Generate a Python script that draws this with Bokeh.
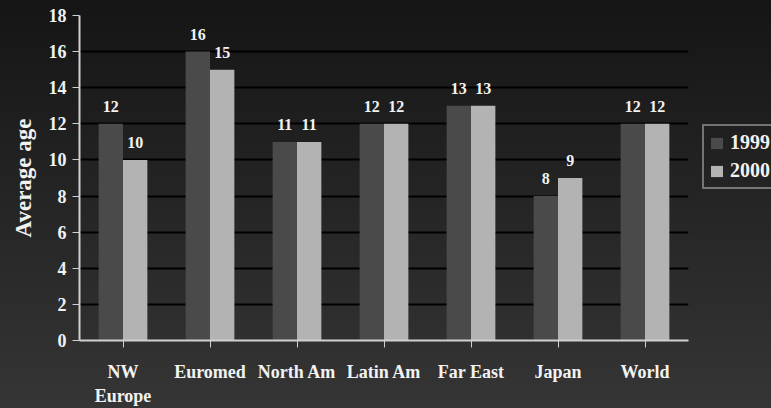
from bokeh.plotting import figure
from bokeh.models import ColumnDataSource, Range1d, FactorRange, Legend, LegendItem, LabelSet
from bokeh.transform import dodge
from bokeh.embed import file_html
from bokeh.resources import INLINE

regions = ["NW\nEurope", "Euromed", "North Am", "Latin Am", "Far East", "Japan", "World"]
age_1999 = [12, 16, 11, 12, 13, 8, 12]
age_2000 = [10, 15, 11, 12, 13, 9, 12]
y_ticks = [0, 2, 4, 6, 8, 10, 12, 14, 16, 18]

FONT = "Liberation Serif"
WHITE = "#f2f2f2"
DARK_BAR = "#4a4a4a"
LIGHT_BAR = "#b3b3b3"

source = ColumnDataSource(data=dict(
    region=regions,
    y1999=age_1999,
    y2000=age_2000,
    t1999=[str(v) for v in age_1999],
    t2000=[str(v) for v in age_2000],
))

p = figure(
    x_range=FactorRange(*regions, range_padding=0),
    y_range=Range1d(0, 18),
    width=771, height=408,
    frame_width=609, frame_height=325,
    min_border_left=79, min_border_right=83,
    min_border_top=15, min_border_bottom=68,
    output_backend="svg", toolbar_location=None,
)

# gradient backdrop behind a transparent canvas
p.styles = {"background": "linear-gradient(to bottom, #151515 0%, #353535 100%)"}
p.background_fill_color = None
p.border_fill_color = None
p.outline_line_color = None

bw = 0.28
r1 = p.vbar(x=dodge("region", -bw / 2, range=p.x_range), top="y1999", width=bw,
            source=source, fill_color=DARK_BAR, line_color=None)
r2 = p.vbar(x=dodge("region", bw / 2, range=p.x_range), top="y2000", width=bw,
            source=source, fill_color=LIGHT_BAR, line_color=None)

for col, txt, off in (("y1999", "t1999", -bw / 2), ("y2000", "t2000", bw / 2)):
    p.add_layout(LabelSet(
        x=dodge("region", off, range=p.x_range), y=col, text=txt, source=source,
        y_offset=12, text_align="center", text_baseline="bottom",
        text_font=FONT, text_font_style="bold", text_font_size="16px",
        text_color=WHITE,
    ))

# grid
p.xgrid.grid_line_color = None
p.ygrid.grid_line_color = "black"
p.ygrid.grid_line_width = 2
p.yaxis.ticker = y_ticks

# axes
for ax in (p.xaxis, p.yaxis):
    ax.axis_line_color = "#d0d0d0"
    ax.axis_line_width = 2
    ax.major_tick_line_color = "#d0d0d0"
    ax.major_tick_line_width = 1
    ax.major_tick_out = 7
    ax.major_tick_in = 0
    ax.minor_tick_line_color = None
    ax.major_label_text_font = FONT
    ax.major_label_text_font_style = "bold"
    ax.major_label_text_color = WHITE
    ax.major_label_text_font_size = "18px"

p.yaxis.major_label_standoff = 6
p.xaxis.major_label_standoff = 14

p.yaxis.axis_label = "Average age"
p.yaxis.axis_label_text_font = FONT
p.yaxis.axis_label_text_font_style = "bold"
p.yaxis.axis_label_text_font_size = "23px"
p.yaxis.axis_label_text_color = WHITE
p.yaxis.axis_label_standoff = 10

legend = Legend(
    items=[LegendItem(label="1999", renderers=[r1]), LegendItem(label="2000", renderers=[r2])],
    location=(14, 151),
    background_fill_alpha=0,
    border_line_color="#c8c8c8", border_line_width=2,
    label_text_font=FONT, label_text_font_style="bold",
    label_text_font_size="20px", label_text_color=WHITE,
    glyph_width=15, glyph_height=14, label_standoff=6, label_height=20,
    padding=5, spacing=5, margin=0,
)
p.add_layout(legend, "right")

open("out.html", "w").write(file_html(p, INLINE))
